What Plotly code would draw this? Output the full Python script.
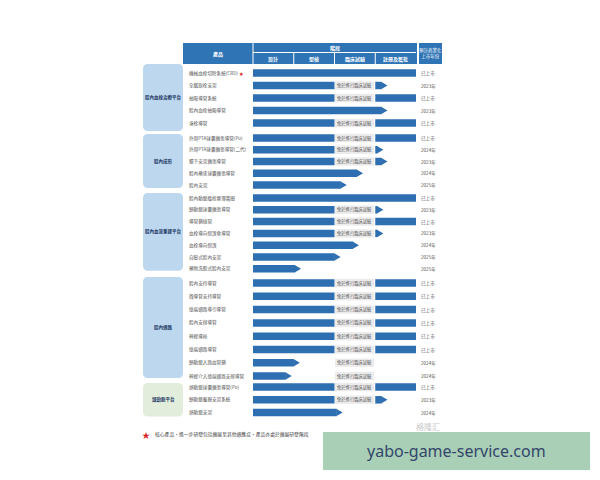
import plotly.graph_objects as go

# ---------------- data ----------------
group_names = ["腔內血栓治療平台", "腔內成形", "腔內血流重建平台", "腔內通路", "頭動脈平台"]
products = [
    "機械血栓切除系統(CRD)", "全腦取栓支架", "抽吸導管系統", "腔內血栓抽吸導管", "溶栓導管",
    "外周PTA球囊擴張導管(Pu)", "外周PTA球囊擴張導管(二代)", "膝下支架擴張導管", "腔內藥塗球囊擴張導管", "腔內支架",
    "腔內動脈瘤栓塞彈簧圈", "頸動脈球囊擴張導管", "導管鞘插管", "血栓導向保護傘導管", "血栓導向保護", "自膨式腔內支架", "藥物洗脫式腔內支架",
    "腔內支持導管", "微導管支持導管", "遠端通路導引導管", "腔內支撐導管", "神經導絲", "遠端通路導管", "頸動脈入路血管鞘", "神經介入遠端通路支撐導管",
    "頭動脈球囊擴張導管(Pu)", "頸動脈覆膜支架系統", "頭動脈支架",
]
product_group = [0]*5 + [1]*5 + [2]*7 + [3]*8 + [4]*3
# progress reached, in stage units (0 = 設計 start, 4 = 註冊及獲批 end)
progress = [4, 3.3, 4, 3.3, 4,
            4, 3.2, 3.3, 2.7, 2.3,
            4, 3.2, 4, 3.2, 2.6, 2.15, 1.18,
            4, 4, 4, 4, 4, 4, 1.15, 0.95,
            4, 3.3, 2.2]
exempt = [False, True, True, False, True,
          True, True, True, False, False,
          False, True, True, True, False, False, False,
          True, True, True, True, True, True, True, True,
          True, True, False]
launch = ["已上市", "2023年", "已上市", "2023年", "已上市",
          "已上市", "2024年", "2023年", "2024年", "2025年",
          "已上市", "2023年", "已上市", "2023年", "2024年", "2025年", "2025年",
          "已上市", "已上市", "已上市", "已上市", "已上市", "已上市", "2024年", "2024年",
          "已上市", "2023年", "2024年"]
stages = ["設計", "型檢", "臨床試驗", "註冊及獲批"]
core_product = 0
exempt_label = "免於進行臨床試驗"
footnote = "核心產品，進一步研發包括擴展至其他適應症，產品亦處於擴展研發階段"

# ---------------- layout constants ----------------
W, H = 600, 480
OFF = 8                      # page body margin
X0, SW = 253, 40.75          # pixel of stage 0, pixels per stage
def sx(px):
    return (px - X0) / SW

BLUE = "#2e6fb1"
HEAD = "#2f74b5"
FONT = "Noto Sans CJK TC"
group_top = [73, 138, 198, 283, 387]
group_pitch = [12.5, 11.75, 11.8, 13.3, 12.8]
BAR_H = 7.5
TIP = 6 / SW

ys = []
counter = {}
for g in product_group:
    k = counter.get(g, 0)
    ys.append(group_top[g] + k * group_pitch[g])
    counter[g] = k + 1

# segments
a_base, a_len, a_y = [], [], []
b_base, b_len, b_y = [], [], []
tip_x, tip_y = [], []
for i, (e, ex, y) in enumerate(zip(progress, exempt, ys)):
    arrow = e < 4
    if ex and e > 2:
        a_base.append(0); a_len.append(2); a_y.append(y)
        if e > 3:
            b_base.append(3); b_len.append(e - 3 - (TIP if arrow else 0)); b_y.append(y)
    else:
        a_base.append(0); a_len.append(e - (TIP if arrow else 0)); a_y.append(y)
    if arrow:
        tip_x += [e - TIP - 0.01, e, e - TIP - 0.01, None]
        tip_y += [y - BAR_H / 2, y, y + BAR_H / 2, None]

fig = go.Figure()
fig.add_trace(go.Bar(orientation="h", y=a_y, x=a_len, base=a_base, width=BAR_H,
                     marker=dict(color=BLUE, line=dict(width=0)), hoverinfo="skip"))
fig.add_trace(go.Bar(orientation="h", y=b_y, x=b_len, base=b_base, width=BAR_H,
                     marker=dict(color=BLUE, line=dict(width=0)), hoverinfo="skip"))
fig.add_trace(go.Scatter(x=tip_x, y=tip_y, mode="lines", fill="toself", fillcolor=BLUE,
                         line=dict(width=0, color=BLUE), hoverinfo="skip"))

shapes = []
ann = []

# header
hy0, hmid, hy1 = 43, 52.5, 64
shapes.append(dict(type="rect", xref="x", yref="y", x0=sx(183), x1=sx(417), y0=hy0, y1=hy1,
                   fillcolor=HEAD, line=dict(width=0), layer="below"))
shapes.append(dict(type="rect", xref="x", yref="y", x0=sx(419), x1=sx(442), y0=hy0, y1=hy1,
                   fillcolor=HEAD, line=dict(width=0), layer="below"))
wl = dict(color="white", width=1)
shapes.append(dict(type="line", xref="x", yref="y", x0=0, x1=4, y0=hmid, y1=hmid, line=wl))
shapes.append(dict(type="line", xref="x", yref="y", x0=0, x1=0, y0=hy0, y1=hy1, line=wl))
for s in (1, 2, 3):
    shapes.append(dict(type="line", xref="x", yref="y", x0=s, x1=s, y0=hmid, y1=hy1, line=wl))
hf = dict(family=FONT, size=5, color="white")
ann.append(dict(x=sx(218), y=(hy0 + hy1) / 2, text="<b>產品</b>", font=hf))
ann.append(dict(x=2, y=(hy0 + hmid) / 2, text="<b>階段</b>", font=hf))
for k, s in enumerate(stages):
    ann.append(dict(x=k + 0.5, y=(hmid + hy1) / 2 + 0.5, text="<b>" + s + "</b>", font=hf))
ann.append(dict(x=sx(430.5), y=(hy0 + hy1) / 2, text="預計商業化<br>上市年份",
                font=dict(family=FONT, size=4.5, color="white")))

# group boxes
def rrect(x0, x1, y0, y1, r):
    rx = r / SW
    return (f"M {x0+rx},{y0} L {x1-rx},{y0} Q {x1},{y0} {x1},{y0+r} L {x1},{y1-r} "
            f"Q {x1},{y1} {x1-rx},{y1} L {x0+rx},{y1} Q {x0},{y1} {x0},{y1-r} "
            f"L {x0},{y0+r} Q {x0},{y0} {x0+rx},{y0} Z")

box_pad = [(9, 8), (4, 3), (5, 2), (6, 2), (4, 4)]
for g, name in enumerate(group_names):
    gy = [y for y, pg in zip(ys, product_group) if pg == g]
    y0, y1 = gy[0] - box_pad[g][0], gy[-1] + box_pad[g][1]
    color = "#e2eedb" if g == 4 else "#bcd7ee"
    shapes.append(dict(type="path", xref="x", yref="y", path=rrect(sx(143), sx(183), y0, y1, 5),
                       fillcolor=color, line=dict(width=0), layer="below"))
    ann.append(dict(x=sx(163), y=(y0 + y1) / 2, text="<b>" + name + "</b>",
                    font=dict(family=FONT, size=4.5, color="#1f3a66")))

# row labels, exempt boxes, launch text
lf = dict(family=FONT, size=4.6, color="#555555")
for i, (p, y, ex, l) in enumerate(zip(products, ys, exempt, launch)):
    t = p + (" <span style='color:#d62728'>★</span>" if i == core_product else "")
    ann.append(dict(x=sx(187), y=y, text=t, xanchor="left", font=lf))
    ann.append(dict(x=sx(419), y=y + 0.5, text=l, xanchor="left", font=lf))
    if ex:
        shapes.append(dict(type="rect", xref="x", yref="y", x0=sx(335), x1=sx(374),
                           y0=y - BAR_H / 2 - 0.5, y1=y + BAR_H / 2 + 0.5,
                           fillcolor="#ececec", line=dict(width=0), layer="below"))
        ann.append(dict(x=2.5, y=y, text=exempt_label, font=dict(family=FONT, size=4.3, color="#555555")))

# footnote
ann.append(dict(x=sx(146), y=434, text="★", font=dict(family=FONT, size=8, color="#d62728")))
ann.append(dict(x=sx(153), y=434, text=footnote, xanchor="left",
                font=dict(family=FONT, size=4.8, color="#444444")))

# watermark
shapes.append(dict(type="rect", xref="x", yref="y", x0=sx(323), x1=sx(590), y0=432, y1=470,
                   fillcolor="#a9cfb7", line=dict(width=0), layer="above"))
ann.append(dict(x=sx(456), y=451, text="yabo-game-service.com",
                font=dict(family="Noto Sans", size=16, color="#33466a")))
ann.append(dict(x=sx(428), y=426, text="格隆汇", font=dict(family=FONT, size=8, color="#c8c8c8")))

for a in ann:
    a.setdefault("xref", "x")
    a.setdefault("yref", "y")
    a.setdefault("showarrow", False)

fig.update_layout(
    width=W, height=H, margin=dict(l=0, r=0, t=0, b=0),
    paper_bgcolor="white", plot_bgcolor="white",
    barmode="overlay", showlegend=False,
    xaxis=dict(range=[sx(OFF), sx(W + OFF)], visible=False, fixedrange=True),
    yaxis=dict(range=[H + OFF, OFF], visible=False, fixedrange=True),
    shapes=shapes, annotations=ann,
)
fig.write_html("out.html")
